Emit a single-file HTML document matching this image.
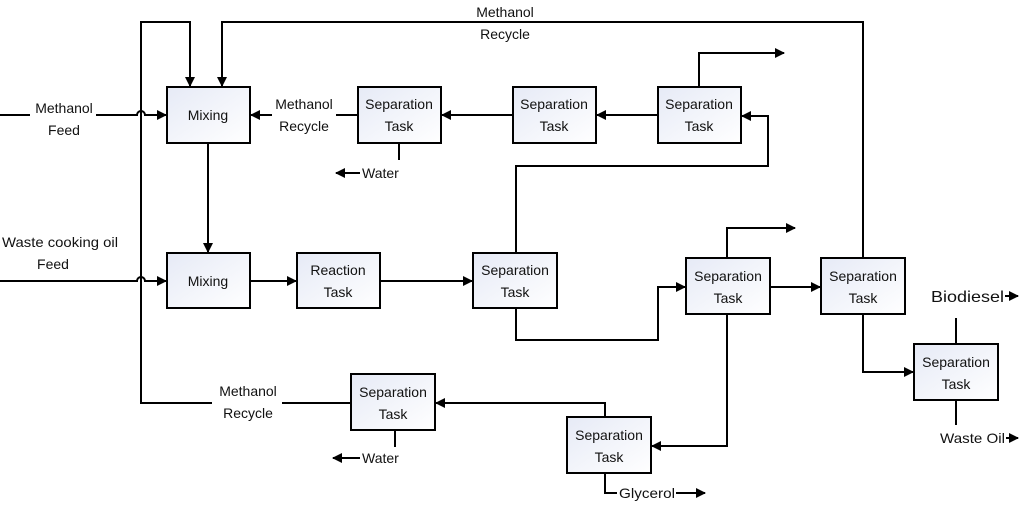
<!DOCTYPE html>
<html><head><meta charset="utf-8"><style>
html,body{margin:0;padding:0;background:#fff;}
svg{display:block;}
text{font-family:"Liberation Sans",sans-serif;font-size:14px;fill:#111;}
</style></head><body>
<svg width="1024" height="507" viewBox="0 0 1024 507" xmlns="http://www.w3.org/2000/svg">
<defs>
<linearGradient id="g" x1="0" y1="0" x2="1" y2="1">
<stop offset="0" stop-color="#e6eaf6"/><stop offset="1" stop-color="#ffffff"/>
</linearGradient>
<marker id="a" markerWidth="10" markerHeight="10" refX="9" refY="5" orient="auto" markerUnits="userSpaceOnUse">
<path d="M0,0 L10,5 L0,10 z" fill="#000"/>
</marker>
</defs>
<g fill="none" stroke="#000" stroke-width="2">
<path d="M351,403 H282"/>
<path d="M212,403 H141 V22 H190 V86" marker-end="url(#a)"/>
<path d="M863,258 V22 H222 V86" marker-end="url(#a)"/>
<path d="M0,115 H30"/>
<path d="M96,115 H137 a4,4 0 0 1 8,0 H166" marker-end="url(#a)"/>
<path d="M336,115 H358"/>
<path d="M272,115 H251" marker-end="url(#a)"/>
<path d="M399,143 V160"/>
<path d="M360,173 H336" marker-end="url(#a)"/>
<path d="M513,115 H442" marker-end="url(#a)"/>
<path d="M658,115 H597" marker-end="url(#a)"/>
<path d="M699,87 V53 H784" marker-end="url(#a)"/>
<path d="M516,253 V166 H768 V116 H742" marker-end="url(#a)"/>
<path d="M208,143 V252" marker-end="url(#a)"/>
<path d="M0,281 H137 a4,4 0 0 1 8,0 H166" marker-end="url(#a)"/>
<path d="M250,281 H296" marker-end="url(#a)"/>
<path d="M380,281 H472" marker-end="url(#a)"/>
<path d="M516,308 V340 H658 V287 H685" marker-end="url(#a)"/>
<path d="M727,258 V228 H795" marker-end="url(#a)"/>
<path d="M770,287 H820" marker-end="url(#a)"/>
<path d="M727,314 V446 H652" marker-end="url(#a)"/>
<path d="M605,417 V403 H436" marker-end="url(#a)"/>
<path d="M395,430 V447"/>
<path d="M360,458 H333" marker-end="url(#a)"/>
<path d="M863,314 V372 H913" marker-end="url(#a)"/>
<path d="M956,344 V318"/>
<path d="M956,400 V425"/>
<path d="M1005,296 H1018" marker-end="url(#a)"/>
<path d="M1006,438 H1018" marker-end="url(#a)"/>
<path d="M605,473 V493 H617"/>
<path d="M676,493 H705" marker-end="url(#a)"/>
</g>
<g fill="url(#g)" stroke="#000" stroke-width="2">
<rect x="167" y="87" width="83" height="56"/>
<rect x="358" y="87" width="83" height="56"/>
<rect x="513" y="87" width="83" height="56"/>
<rect x="658" y="87" width="83" height="56"/>
<rect x="167" y="253" width="83" height="55"/>
<rect x="297" y="253" width="83" height="55"/>
<rect x="473" y="253" width="84" height="55"/>
<rect x="686" y="258" width="84" height="56"/>
<rect x="821" y="258" width="84" height="56"/>
<rect x="914" y="344" width="84" height="56"/>
<rect x="351" y="374" width="84" height="56"/>
<rect x="567" y="417" width="84" height="56"/>
</g>
<g text-anchor="middle">
<text x="208" y="120">Mixing</text>
<text x="208" y="286">Mixing</text>
<text x="399" y="109">Separation</text><text x="399" y="131">Task</text>
<text x="554" y="109">Separation</text><text x="554" y="131">Task</text>
<text x="699" y="109">Separation</text><text x="699" y="131">Task</text>
<text x="338" y="275">Reaction</text><text x="338" y="297">Task</text>
<text x="515" y="275">Separation</text><text x="515" y="297">Task</text>
<text x="728" y="281">Separation</text><text x="728" y="303">Task</text>
<text x="863" y="281">Separation</text><text x="863" y="303">Task</text>
<text x="956" y="367">Separation</text><text x="956" y="389">Task</text>
<text x="393" y="397">Separation</text><text x="393" y="419">Task</text>
<text x="609" y="440">Separation</text><text x="609" y="462">Task</text>
<text x="505" y="17">Methanol</text><text x="505" y="39">Recycle</text>
<text x="64" y="113">Methanol</text><text x="64" y="135">Feed</text>
<text x="304" y="109">Methanol</text><text x="304" y="131">Recycle</text>
<text x="53" y="269">Feed</text>
<text x="248" y="396">Methanol</text><text x="248" y="418">Recycle</text>
</g>
<text x="2" y="247" textLength="116" lengthAdjust="spacingAndGlyphs">Waste cooking oil</text>
<text x="362" y="178">Water</text>
<text x="362" y="463">Water</text>
<text x="619" y="498" textLength="56" lengthAdjust="spacingAndGlyphs">Glycerol</text>
<text x="931" y="302" style="font-size:16px" textLength="73" lengthAdjust="spacingAndGlyphs">Biodiesel</text>
<text x="940" y="443" textLength="65" lengthAdjust="spacingAndGlyphs">Waste Oil</text>
</svg>
</body></html>
